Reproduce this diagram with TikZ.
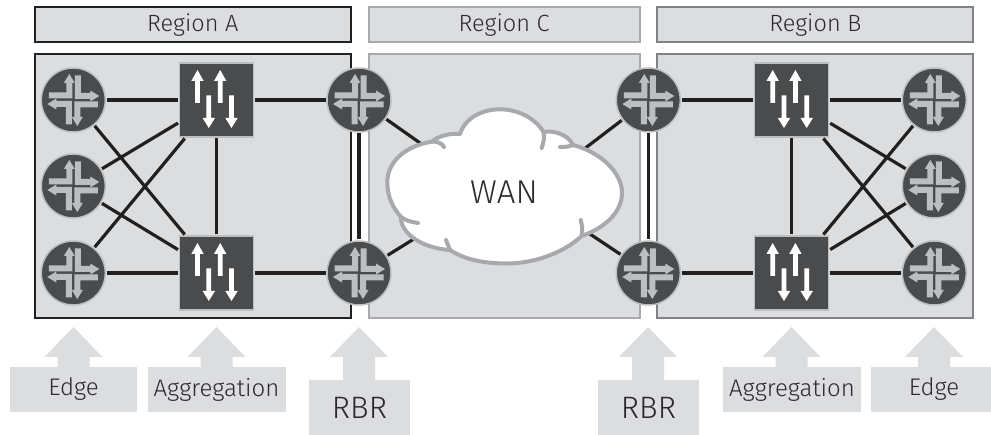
\documentclass[tikz,border=0pt]{standalone}
\usepackage{fontspec}
\setmainfont{Fira Sans}[UprightFont=* Light]
\definecolor{panel}{HTML}{DCDDDE}
\definecolor{ink}{HTML}{231F20}
\definecolor{dev}{HTML}{4A4B4D}
\definecolor{ring}{HTML}{BCBEC0}
\definecolor{grayC}{HTML}{A7A9AC}
\definecolor{grayB}{HTML}{808285}
\definecolor{txt}{HTML}{2B2B2D}
\newcommand{\uparr}[1]{(#1,-30) -- (#1+6.2,-19) -- (#1+2.4,-19) -- (#1+2.4,3) -- (#1-2.4,3) -- (#1-2.4,-19) -- (#1-6.2,-19) -- cycle}
\newcommand{\downarr}[1]{(#1,28) -- (#1+6.2,18) -- (#1+2.4,18) -- (#1+2.4,-4.5) -- (#1-2.4,-4.5) -- (#1-2.4,18) -- (#1-6.2,18) -- cycle}
\newcommand{\tagarrow}[2]{\fill[panel] (#1,327) -- (#1+29,357) -- (#1+16,357) -- (#1+16,#2) -- (#1-16,#2) -- (#1-16,357) -- (#1-29,357) -- cycle;}
\tikzset{
  regionbox/.style={draw,line width=2pt,fill=panel,inner sep=0pt,text=txt,font=\fontsize{23.5}{28}\selectfont},
  router/.style={circle,draw=ring,line width=1.5pt,fill=dev,minimum size=64pt,inner sep=0pt,outer sep=1.5pt,
    path picture={\begin{scope}[shift={(path picture bounding box.center)}]
      \fill[ring] (-24.5,-7.5) -- (-7,-7.5) -- (-7,-17) -- (-9.5,-17) -- (-4,-26) -- (1.5,-17) -- (-1,-17) -- (-1,-1.5) -- (-24.5,-1.5) -- cycle;
      \fill[ring] (7.5,-24.5) -- (7.5,-7) -- (17,-7) -- (17,-9.5) -- (26,-4) -- (17,1.5) -- (17,-1) -- (1.5,-1) -- (1.5,-24.5) -- cycle;
      \fill[ring] (24.5,7.5) -- (7,7.5) -- (7,17) -- (9.5,17) -- (4,26) -- (-1.5,17) -- (1,17) -- (1,1.5) -- (24.5,1.5) -- cycle;
      \fill[ring] (-7.5,24.5) -- (-7.5,7) -- (-17,7) -- (-17,9.5) -- (-26,4) -- (-17,-1.5) -- (-17,1) -- (-1.5,1) -- (-1.5,24.5) -- cycle;
    \end{scope}}},
  switchbox/.style={rectangle,draw=ring,line width=1.5pt,fill=dev,minimum size=74pt,inner sep=0pt,outer sep=1.5pt,
    path picture={\begin{scope}[shift={(path picture bounding box.center)}]
      \fill[white] \uparr{-19}; \fill[white] \uparr{3.7};
      \fill[white] \downarr{-7.7}; \fill[white] \downarr{15};
    \end{scope}}},
  link/.style={line width=3.2pt,draw=ink},
  tagbox/.style={rectangle,fill=panel,inner sep=0pt,text=txt,font=\fontsize{24}{28}\selectfont},
  rbrbox/.style={tagbox,font=\fontsize{31}{36}\selectfont,minimum width=101pt,minimum height=55pt},
  cloudline/.style={draw=grayC,line width=4pt,line cap=round,line join=round},
}
\begin{document}
\begin{tikzpicture}[x=1pt,y=-1pt]
\useasboundingbox (0,0) rectangle (991,435);
% regions
\node[regionbox,draw=ink,minimum width=316pt,minimum height=35pt] (hA) at (192.7,24.7) {Region A};
\node[regionbox,draw=grayC,minimum width=271pt,minimum height=35pt] (hC) at (504,24.7) {Region C};
\node[regionbox,draw=grayB,minimum width=316pt,minimum height=35pt] (hB) at (815.3,24.7) {Region B};
\node[regionbox,draw=ink,minimum width=316pt,minimum height=264pt] (bA) at (192.7,186) {};
\node[regionbox,draw=grayC,minimum width=271pt,minimum height=264pt] (bC) at (504,186) {};
\node[regionbox,draw=grayB,minimum width=316pt,minimum height=264pt] (bB) at (815.3,186) {};
% tags
\tagarrow{73.5}{370}
\tagarrow{216.5}{370}
\tagarrow{359}{383}
\tagarrow{648}{383}
\tagarrow{791.5}{370}
\tagarrow{934}{370}
\node[tagbox,minimum width=127pt,minimum height=45pt] (tE1) at (73.5,389.5) {Edge};
\node[tagbox,minimum width=138pt,minimum height=45pt] (tA1) at (216.5,389.5) {Aggregation};
\node[rbrbox] (tR1) at (359.5,407.5) {RBR};
\node[rbrbox] (tR2) at (648.5,407.5) {RBR};
\node[tagbox,minimum width=138pt,minimum height=45pt] (tA2) at (792,389.5) {Aggregation};
\node[tagbox,minimum width=120pt,minimum height=45pt] (tE2) at (931,389.5) {\hspace{6pt}Edge};
% devices
\node[router] (a1) at (73.3,100) {};
\node[router] (a2) at (73.3,186) {};
\node[router] (a3) at (73.3,273) {};
\node[switchbox] (s1) at (216.5,100) {};
\node[switchbox] (s2) at (216.5,273) {};
\node[router] (r1) at (359,100) {};
\node[router] (r2) at (359,273) {};
\node[router] (r3) at (648.3,100) {};
\node[router] (r4) at (648.3,273) {};
\node[switchbox] (s3) at (791.7,100) {};
\node[switchbox] (s4) at (791.7,273) {};
\node[router] (b1) at (934.3,100) {};
\node[router] (b2) at (934.3,186) {};
\node[router] (b3) at (934.3,273) {};
% links
\foreach \p/\q in {a1/s1,a1/s2,a2/s1,a2/s2,a3/s1,a3/s2,s1/s2,s1/r1,s2/r2,r1/r2,r3/r4,r3/s3,r4/s4,s3/s4,s3/b1,s3/b2,s3/b3,s4/b1,s4/b2,s4/b3}
  \draw[link] (\p) -- (\q);
\coordinate (c1) at (430,150);
\coordinate (c2) at (430,229);
\coordinate (c3) at (575,156);
\coordinate (c4) at (575,224);
\draw[link] (r1) -- (c1);
\draw[link] (r2) -- (c2);
\draw[link] (r3) -- (c3);
\draw[link] (r4) -- (c4);
% cloud
\path[cloudline,fill=white] (431.7,141.7)
  .. controls (405,146) and (387,162) .. (387.3,183)
  .. controls (387.5,197) and (393,208) .. (401,217)
  .. controls (400,232) and (420,248) .. (450,250)
  .. controls (465,260) and (485,263.5) .. (507,263.5)
  .. controls (535,263.5) and (565,252) .. (581.5,236)
  .. controls (605,228) and (622,212) .. (622,193)
  .. controls (622,172) and (600,152) .. (573,145)
  .. controls (568,135) and (555,130) .. (543.5,132)
  .. controls (535,118) and (518,109.3) .. (500,109.3)
  .. controls (482,109.3) and (465,118) .. (460,134)
  .. controls (450,133) and (438,136) .. (431.7,141.7) -- cycle;
\path[cloudline] (431.7,141.7) .. controls (436,141) and (442,143) .. (444,147);
\path[cloudline] (401,217) .. controls (406,221) and (412,222) .. (418,223);
\path[cloudline] (450,250) .. controls (449,247) and (447,243) .. (446,240);
\path[cloudline] (581.5,236) .. controls (583,231) and (582,225) .. (580.7,220);
\path[cloudline] (573,145) .. controls (568,147) and (564,147) .. (560,147);
\path[cloudline] (543.5,132) .. controls (545,138) and (543,144) .. (541.7,148);
\node[text=txt,font=\fontsize{33}{38}\selectfont,inner sep=0pt] (wan) at (504,192) {WAN};
\end{tikzpicture}
\end{document}
